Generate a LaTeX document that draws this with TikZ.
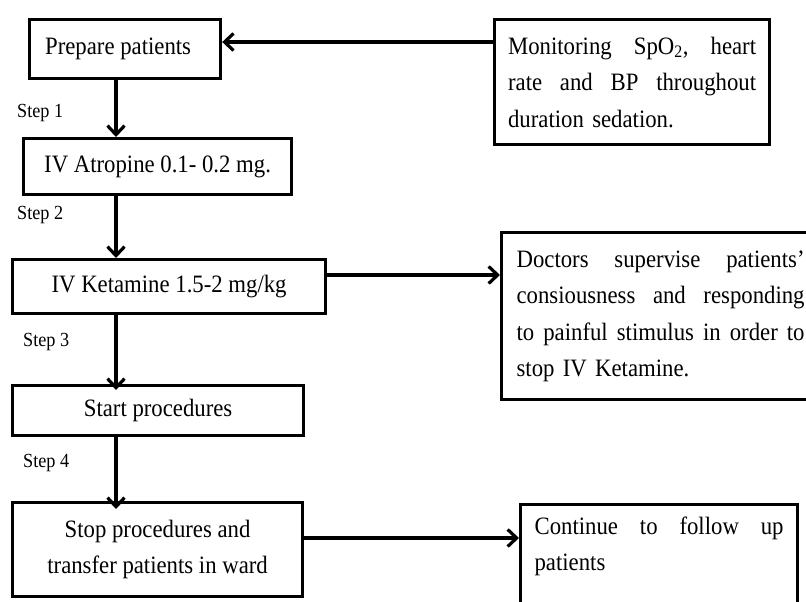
\documentclass[tikz,border=0pt]{standalone}
\usepackage{fontspec}
\setmainfont[FakeStretch=0.91]{Liberation Serif}
\usetikzlibrary{arrows.meta}
\newcommand{\jline}[2]{\leavevmode\hbox to #1{#2}}
\begin{document}
\begin{tikzpicture}[x=1pt,y=-1pt,
  box/.style={draw=black, line width=3.2pt, rectangle, inner sep=0pt, anchor=north west,
    font=\fontsize{25}{36.5}\selectfont},
  steplabel/.style={anchor=west, inner sep=0pt, font=\fontsize{20}{24}\selectfont},
  arr/.style={line width=3.2pt, -{Straight Barb[length=9pt,width=17pt,line width=3.2pt]}}]
\clip (0,0) rectangle (806,602);
\fill[white] (0,0) rectangle (806,602);

% left column boxes
\node[box, minimum width=191pt, minimum height=59pt] (prep) at (28,18) {Prepare patients\hspace*{14pt}};
\node[box, minimum width=268pt, minimum height=56pt] (atro) at (22,137) {IV Atropine 0.1- 0.2 mg.};
\node[box, minimum width=313pt, minimum height=54pt] (keta) at (11,258) {IV Ketamine 1.5-2 mg/kg};
\node[box, minimum width=291pt, minimum height=50pt] (start) at (11,384) {Start procedures};
\node[box, minimum width=290pt, minimum height=94pt, align=center] (stop) at (11,501)
  {Stop procedures and\\transfer patients in ward};

% right column boxes
\node[box, minimum height=125pt, align=left, text width=248pt, inner xsep=13.5pt] (mon) at (493,18)
  {\jline{248pt}{Monitoring\hfill SpO\textsubscript{2},\hfill heart}\\
   \jline{248pt}{rate\hfill and\hfill BP\hfill throughout}\\
   duration sedation.};
\node[box, minimum height=167pt, align=left, text width=288pt, inner xsep=15pt] (doc) at (500,231)
  {\jline{288pt}{Doctors\hfill supervise\hfill patients’}\\
   \jline{288pt}{consiousness\hfill and\hfill responding}\\
   \jline{288pt}{to\hfill painful\hfill stimulus\hfill in\hfill order\hfill to}\\
   stop IV Ketamine.};
\node[box, align=left, text width=249pt, inner xsep=14pt, inner ysep=12pt] (cont) at (519,503)
  {\jline{249pt}{Continue\hfill to\hfill follow\hfill up}\\
   patients\\
   \rule{0pt}{50pt}};

% step labels
\node[steplabel] (s1) at (17,113) {Step 1};
\node[steplabel] (s2) at (17,215) {Step 2};
\node[steplabel] (s3) at (23,342) {Step 3};
\node[steplabel] (s4) at (23,463) {Step 4};

% helper coordinates
\coordinate (colx) at (116,0);
\coordinate (ya) at (0,42);
\coordinate (yb) at (0,275);
\coordinate (yc) at (0,538);

% connectors
\draw[arr] (prep.south -| colx) -- (atro.north -| colx);
\draw[arr] (atro.south -| colx) -- (keta.north -| colx);
\draw[arr] (keta.south -| colx) -- ([yshift=-6pt]start.north -| colx);
\draw[arr] (start.south -| colx) -- ([yshift=-8pt]stop.north -| colx);
\draw[arr] (mon.west |- ya) -- (prep.east |- ya);
\draw[arr] (keta.east |- yb) -- (doc.west |- yb);
\draw[arr] (stop.east |- yc) -- (cont.west |- yc);
\end{tikzpicture}
\end{document}
